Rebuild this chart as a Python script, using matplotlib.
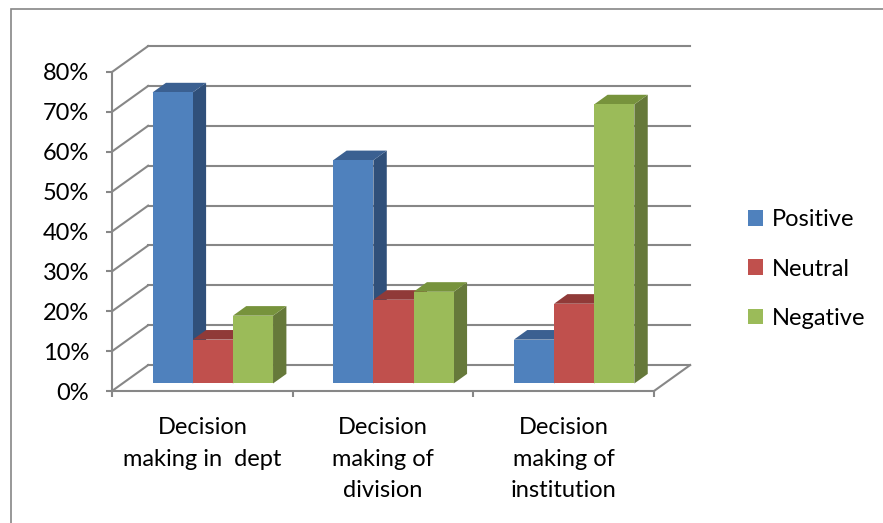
import matplotlib.pyplot as plt
from matplotlib.patches import Polygon, Rectangle, Patch

plt.rcParams['font.family'] = ['Lato', 'DejaVu Sans']

### data
categories = ['Decision\nmaking in  dept', 'Decision\nmaking of\ndivision',
              'Decision\nmaking of\ninstitution']
series = ['Positive', 'Neutral', 'Negative']
positive = [73, 56, 11]
neutral = [11, 21, 20]
negative = [17, 23, 70]
yticks = [0, 10, 20, 30, 40, 50, 60, 70, 80]
ytick_labels = [f'{v}%' for v in yticks]

front_colors = ['#4F81BD', '#C0504D', '#9BBB59']
top_colors = ['#3B6091', '#903A38', '#77933C']
side_colors = ['#30507A', '#7F302E', '#66793A']
grid_color = '#878787'

W, H = 883, 523
fig = plt.figure(figsize=(W / 100, H / 100), dpi=100)
ax = fig.add_axes([112 / W, 1 - 391 / H, 542 / W, 319 / H])
ax.set_xlim(0, 3)
ax.set_ylim(0, 80)

# oblique offset of the back wall, in data units
DX, DY = 0.2, 6.5

### walls and floor
for v in yticks:
    ax.plot([DX, 3 + DX], [v + DY, v + DY], color=grid_color, lw=1.5,
            clip_on=False, zorder=1)
    ax.plot([0, DX], [v, v + DY], color=grid_color, lw=1.5,
            clip_on=False, zorder=1)
ax.plot([3, 3 + DX], [0, DY], color=grid_color, lw=1.5, clip_on=False, zorder=1)

### 3d bars
def box(x0, w, h, z0, dz, k, z):
    ox, oy = z0 * DX, z0 * DY
    ex, ey = dz * DX, dz * DY
    front = [(x0 + ox, oy), (x0 + w + ox, oy), (x0 + w + ox, oy + h), (x0 + ox, oy + h)]
    top = [(x0 + ox, oy + h), (x0 + w + ox, oy + h),
           (x0 + w + ox + ex, oy + h + ey), (x0 + ox + ex, oy + h + ey)]
    side = [(x0 + w + ox, oy), (x0 + w + ox + ex, oy + ey),
            (x0 + w + ox + ex, oy + h + ey), (x0 + w + ox, oy + h)]
    for pts, c in [(side, side_colors[k]), (top, top_colors[k]), (front, front_colors[k])]:
        ax.add_patch(Polygon(pts, closed=True, fc=c, ec='none', clip_on=False, zorder=z))

bar_w = 1 / 4.5
z = 2
for i in range(len(categories)):
    for k, vals in enumerate([positive, neutral, negative]):
        x0 = i + 0.75 * bar_w + k * bar_w
        box(x0, bar_w, vals[i], 0.29, 0.37, k, z)
        z += 1

### axes styling
for s in ['top', 'right']:
    ax.spines[s].set_visible(False)
for s in ['left', 'bottom']:
    ax.spines[s].set_color(grid_color)
    ax.spines[s].set_linewidth(1.5)
ax.set_yticks(yticks, ytick_labels)
ax.set_xticks([0, 1, 2, 3], [])
ax.set_xticks([0.5, 1.5, 2.5], categories, minor=True)
ax.tick_params(axis='y', length=4.5, width=1.5, color=grid_color, labelsize=17, pad=12)
ax.tick_params(axis='x', which='major', length=4.5, width=1.5, color=grid_color)
ax.tick_params(axis='x', which='minor', length=0, labelsize=17, pad=19)
for lbl in ax.get_xticklabels(minor=True):
    lbl.set_linespacing(1.6)
ax.patch.set_alpha(0)

### legend
handles = [Patch(fc=c, ec='none') for c in front_colors]
ax.legend(handles, series, loc='center left', bbox_to_anchor=(748 / W, 1 - 269 / H),
          bbox_transform=fig.transFigure, frameon=False, fontsize=17,
          handlelength=0.65, handleheight=0.65, handletextpad=0.35,
          labelspacing=1.2, borderpad=0, borderaxespad=0)

### chart border
fig.add_artist(Rectangle((11 / W, -0.05), 1.1, 1.05 - 9 / H, transform=fig.transFigure,
                         fill=False, ec='#868686', lw=1.2))

plt.savefig('out.png', dpi=100)
